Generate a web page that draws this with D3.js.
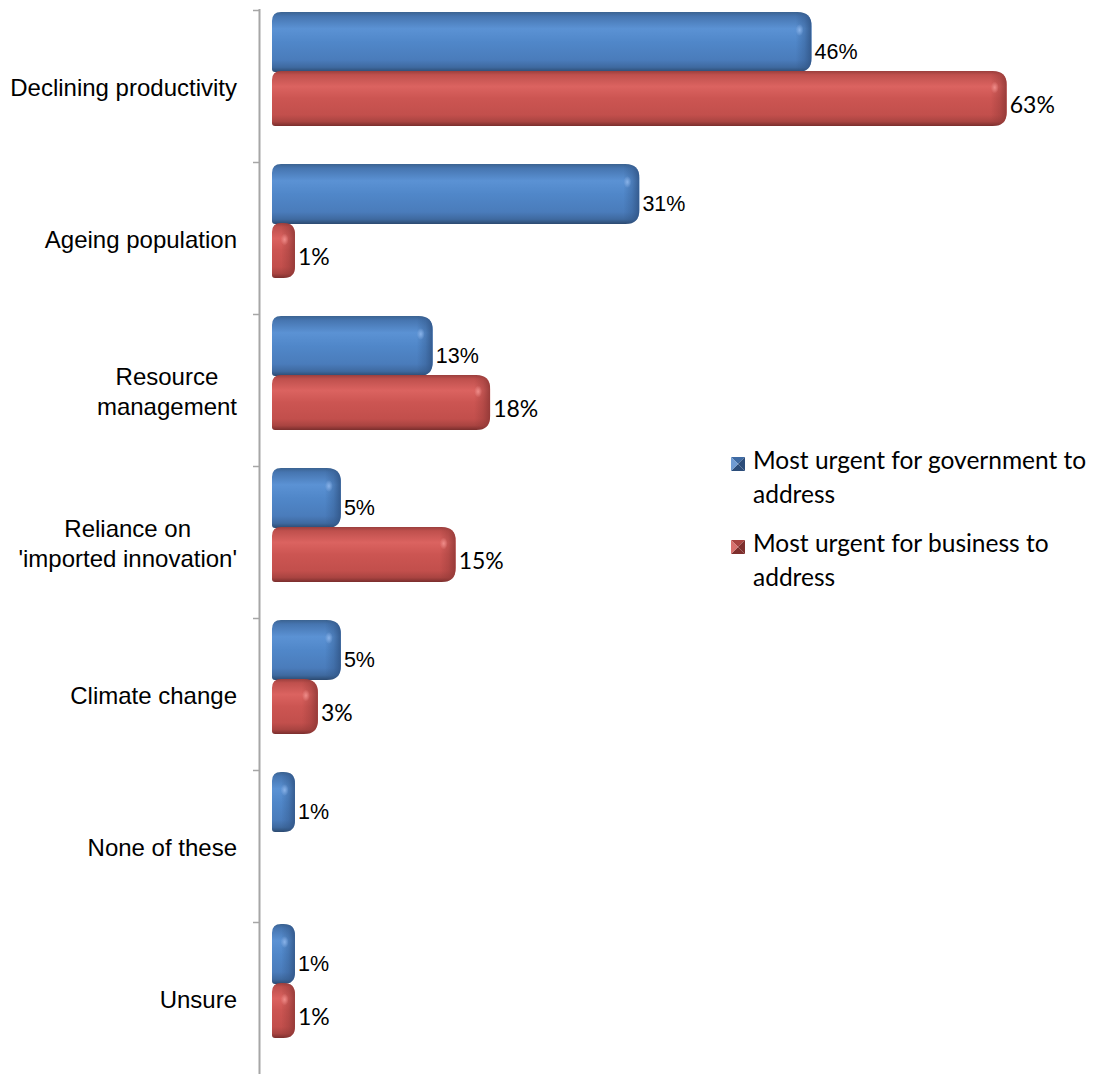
<!DOCTYPE html>
<html>
<head>
<meta charset="utf-8">
<script src="https://cdn.jsdelivr.net/npm/d3@7"></script>
<style>
  html, body { margin: 0; padding: 0; background: #ffffff; }
  svg { display: block; }
</style>
</head>
<body>
<svg id="chart" width="1099" height="1074"></svg>
<script>
// Issues considered most urgent, by who should address them
const categories = [
  ["Declining productivity"],
  ["Ageing population"],
  ["Resource", "management"],
  ["Reliance on", "'imported innovation'"],
  ["Climate change"],
  ["None of these"],
  ["Unsure"]
];
const seriesNames = [
  ["Most urgent for government to", "address"],
  ["Most urgent for business to", "address"]
];
const government = [46, 31, 13, 5, 5, 1, 1];
const business   = [63, 1, 18, 15, 3, null, 1];

const svg = d3.select("#chart");
const defs = svg.append("defs");

// Category axis (vertical) and value scale (horizontal)
const y = d3.scaleBand()
  .domain(d3.range(categories.length))
  .range([10, 1074])
  .paddingInner(0).paddingOuter(0);
const sub = d3.scaleBand()
  .domain([0, 1])
  .range([2, 118]);
const x = d3.scaleLinear().domain([0, 70]).range([272, 1075.6]);
const capDepth = 11.5;   // extra length of the rounded 3D end cap

// Colour ramps for the two series
const palettes = [
  { id: "gov", stops: [
      [0, "#3b6391"], [0.07, "#4675b0"], [0.28, "#5b92d4"], [0.5, "#5087c9"],
      [0.8, "#4a7cbb"], [0.92, "#3f6aa0"], [1, "#2c4a70"]],
    cap: "#2f5384", hi: "#8fb7ec", legend: ["#6f9bd3", "#3e6aa3", "#2c4d7a", "#4f81bd"] },
  { id: "bus", stops: [
      [0, "#9a3f3d"], [0.07, "#bf504d"], [0.28, "#db6360"], [0.5, "#cc5552"],
      [0.8, "#c24f4c"], [0.92, "#a94441"], [1, "#7a2e2d"]],
    cap: "#8e3735", hi: "#f3928f", legend: ["#d8706d", "#a84340", "#7e2f2d", "#c0504d"] }
];

palettes.forEach(p => {
  const g = defs.append("linearGradient").attr("id", "fill-" + p.id)
    .attr("x1", 0).attr("y1", 0).attr("x2", 0).attr("y2", 1);
  p.stops.forEach(s => g.append("stop").attr("offset", s[0]).attr("stop-color", s[1]));
  const c = defs.append("linearGradient").attr("id", "cap-" + p.id)
    .attr("x1", 0).attr("y1", 0).attr("x2", 1).attr("y2", 0);
  c.append("stop").attr("offset", 0).attr("stop-color", p.cap).attr("stop-opacity", 0);
  c.append("stop").attr("offset", 0.55).attr("stop-color", p.cap).attr("stop-opacity", 0.35);
  c.append("stop").attr("offset", 1).attr("stop-color", p.cap).attr("stop-opacity", 0.85);
  const r = defs.append("radialGradient").attr("id", "hi-" + p.id);
  r.append("stop").attr("offset", 0).attr("stop-color", p.hi).attr("stop-opacity", 0.9);
  r.append("stop").attr("offset", 1).attr("stop-color", p.hi).attr("stop-opacity", 0);
});

// Rounded bar outline: softer bevel on the left, deep round cap on the right
function barPath(x0, x1, y0, h) {
  const w = x1 - x0;
  const rr = Math.min(14, w / 2, h / 2);
  const rl = Math.min(9, w / 2, h / 2);
  const y1 = y0 + h;
  return `M${x0 + rl},${y0}` +
    `L${x1 - rr},${y0}` +
    `Q${x1},${y0} ${x1},${y0 + rr}` +
    `L${x1},${y1 - rr}` +
    `Q${x1},${y1} ${x1 - rr},${y1}` +
    `L${x0 + 3},${y1}` +
    `Q${x0},${y1} ${x0},${y1 - 3}` +
    `L${x0},${y0 + rl}` +
    `Q${x0},${y0} ${x0 + rl},${y0}Z`;
}

// Axis line with tick marks at category boundaries
const axis = svg.append("g");
axis.append("line")
  .attr("x1", 259.5).attr("x2", 259.5)
  .attr("y1", 9).attr("y2", 1074)
  .attr("stroke", "#a6a6a6").attr("stroke-width", 2);
axis.selectAll("line.tick")
  .data(d3.range(categories.length))
  .join("line").attr("class", "tick")
  .attr("x1", 253).attr("x2", 259)
  .attr("y1", i => y(i) + 0.5).attr("y2", i => y(i) + 0.5)
  .attr("stroke", "#a6a6a6").attr("stroke-width", 1.5);

// Category labels, right aligned block, lines centred within the block
const labelRight = 237;
const catFont = 24;
const lineH = 30;
categories.forEach((lines, i) => {
  const g = svg.append("g");
  const cy = y(i) + y.bandwidth() / 2 + 2;
  const texts = lines.map((t, k) => g.append("text")
    .attr("font-family", "Arial, 'Liberation Sans', sans-serif")
    .attr("font-size", catFont)
    .attr("fill", "#000")
    .attr("y", cy + (k - (lines.length - 1) / 2) * lineH + catFont * 0.35)
    .text(t));
  const maxW = d3.max(texts, t => t.node().getComputedTextLength());
  texts.forEach(t => t.attr("text-anchor", "middle").attr("x", labelRight - maxW / 2));
});

// Bars
const seriesData = [government, business];
seriesData.forEach((vals, s) => {
  const p = palettes[s];
  const h = sub.bandwidth() + (s === 0 ? 2 : -3);
  const g = svg.append("g");
  vals.forEach((v, i) => {
    if (v == null) return;
    const y0 = y(i) + sub(s) + (s === 1 ? 1 : 0);
    const x0 = x(0);
    const x1 = x(v) + capDepth;
    const d = barPath(x0, x1, y0, h);
    g.append("path").attr("d", d).attr("fill", `url(#fill-${p.id})`);
    // shaded end cap
    const capW = Math.min(16, (x1 - x0) * 0.6);
    const clipId = `clip-${p.id}-${i}`;
    defs.append("clipPath").attr("id", clipId).append("path").attr("d", d);
    g.append("rect")
      .attr("x", x1 - capW).attr("y", y0).attr("width", capW).attr("height", h)
      .attr("fill", `url(#cap-${p.id})`).attr("clip-path", `url(#${clipId})`);
    // small specular highlight near the cap
    g.append("ellipse")
      .attr("cx", x1 - capW * 0.75).attr("cy", y0 + h * 0.3)
      .attr("rx", 4).attr("ry", 6)
      .attr("fill", `url(#hi-${p.id})`).attr("clip-path", `url(#${clipId})`);
    // value label
    svg.append("text")
      .attr("x", x1 + 3)
      .attr("y", y0 + h - 13)
      .attr("font-family", s === 0 ? "Arial, 'Liberation Sans', sans-serif" : "Lato, 'Open Sans', sans-serif")
      .attr("font-size", s === 0 ? 21.5 : 23)
      .attr("fill", "#000")
      .text(v + "%");
  });
});

// Legend with bevelled square markers
const legend = svg.append("g");
const legendY = [457, 540];
seriesNames.forEach((lines, s) => {
  const p = palettes[s];
  const mx = 731, my = legendY[s], ms = 14;
  const cx = mx + ms / 2, cyy = my + ms / 2;
  const tri = [
    [[mx, my], [mx + ms, my], [cx, cyy]],
    [[mx + ms, my], [mx + ms, my + ms], [cx, cyy]],
    [[mx + ms, my + ms], [mx, my + ms], [cx, cyy]],
    [[mx, my + ms], [mx, my], [cx, cyy]]
  ];
  const shades = [p.legend[1], p.legend[2], p.legend[2], p.legend[0]];
  tri.forEach((t, k) => legend.append("path")
    .attr("d", d3.line()(t) + "Z").attr("fill", shades[k]));
  lines.forEach((t, k) => legend.append("text")
    .attr("x", 753)
    .attr("y", my + 12 + k * 34)
    .attr("font-family", "Lato, 'Open Sans', sans-serif")
    .attr("font-size", 24.5)
    .attr("fill", "#000")
    .text(t));
});
</script>
</body>
</html>
